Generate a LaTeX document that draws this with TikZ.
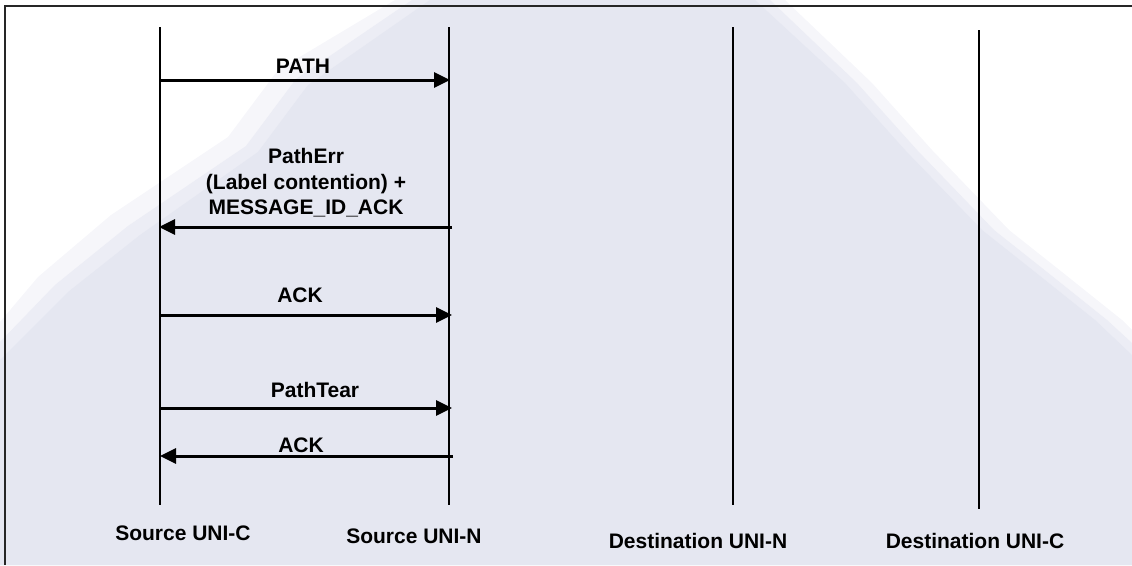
\documentclass[tikz,border=0pt]{standalone}
\usepackage{fontspec}
\setmainfont{Liberation Sans}
\usetikzlibrary{arrows.meta}
\definecolor{bgblue}{RGB}{229,231,241}
\definecolor{bgfade}{RGB}{236,237,245}
\definecolor{bgfadeb}{RGB}{246,246,250}
\tikzset{
  lifeline/.style={line width=1.8pt, black},
  msg/.style={line width=3pt, black, -{Triangle[length=16pt,width=15pt]}, shorten >=-1pt},
  lbl/.style={font=\fontsize{21}{25.5}\selectfont\bfseries, inner sep=0pt, align=center},
  frame/.style={line width=2pt, black!85}
}
\begin{document}
\begin{tikzpicture}[x=1pt,y=-1pt]
\useasboundingbox (0,0) rectangle (1132,565);
% background triangle with soft edge
\fill[bgfadeb] (395,0) -- (785,0) -- (872,83) -- (932,150) -- (1009,230) -- (1062,272) -- (1122,320) -- (1132,330)
  -- (1132,565) -- (0,565) -- (0,322) -- (38,277) -- (111,215) -- (228,137) -- (278,70) -- cycle;
\fill[bgfade] (412,0) -- (770,0) -- (857,83) -- (917,150) -- (994,230) -- (1047,272) -- (1107,320) -- (1132,343)
  -- (1132,565) -- (0,565) -- (0,342) -- (55,285) -- (128,226) -- (246,146) -- (296,79) -- cycle;
\fill[bgblue] (430,0) -- (755,0) -- (845,83) -- (905,150) -- (982,230) -- (1035,272) -- (1095,320) -- (1132,355)
  -- (1132,565) -- (0,565) -- (0,360) -- (68,292) -- (140,235) -- (258,152) -- (308,85) -- cycle;
% frame
\draw[frame] (1132,6) -- (5,6) -- (5,565);
% lifelines
\coordinate (c1t) at (160,27); \coordinate (c1b) at (160,505);
\coordinate (c2t) at (449,27); \coordinate (c2b) at (449,505);
\coordinate (c3t) at (733,27); \coordinate (c3b) at (733,505);
\coordinate (c4t) at (979,30); \coordinate (c4b) at (979,509);
\draw[lifeline] (c1t) -- (c1b);
\draw[lifeline] (c2t) -- (c2b);
\draw[lifeline] (c3t) -- (c3b);
\draw[lifeline] (c4t) -- (c4b);
% message endpoints
\coordinate (m1a) at (160,80);  \coordinate (m1b) at (449,80);
\coordinate (m2a) at (452,227); \coordinate (m2b) at (160,227);
\coordinate (m3a) at (160,315); \coordinate (m3b) at (451,315);
\coordinate (m4a) at (160,408); \coordinate (m4b) at (451,408);
\coordinate (m5a) at (453,456); \coordinate (m5b) at (161,456);
\draw[msg] (m1a) -- (m1b);
\draw[msg] (m2a) -- (m2b);
\draw[msg] (m3a) -- (m3b);
\draw[msg] (m4a) -- (m4b);
\draw[msg] (m5a) -- (m5b);
% message labels
\node[lbl] (l1) at (303,66) {PATH};
\node[lbl] (l2) at (306,183) {PathErr\\(Label contention) +\\MESSAGE\_ID\_ACK};
\node[lbl] (l3) at (300,295) {ACK};
\node[lbl] (l4) at (315,390) {PathTear};
\node[lbl] (l5) at (301,445) {ACK};
% entity labels
\node[lbl] (e1) at (183,533) {Source UNI-C};
\node[lbl] (e2) at (414,536) {Source UNI-N};
\node[lbl] (e3) at (698,541) {Destination UNI-N};
\node[lbl] (e4) at (975,541) {Destination UNI-C};
\end{tikzpicture}
\end{document}
